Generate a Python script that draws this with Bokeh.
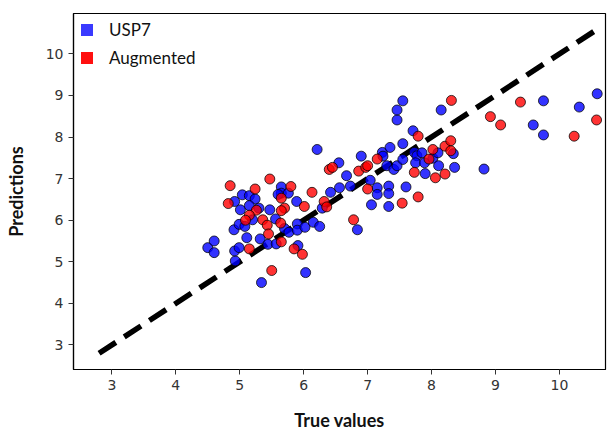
from bokeh.plotting import figure
from bokeh.models import Legend, LegendItem, FixedTicker
from bokeh.embed import file_html
from bokeh.resources import INLINE

# Data
usp7_true = [4.50, 4.60, 4.60, 4.93, 4.92, 4.99, 4.91, 4.99, 5.08, 4.92,
             5.04, 5.01, 5.15, 5.24, 5.15, 5.20, 5.11, 5.32, 5.44, 5.47,
             5.56, 5.57, 5.65, 5.65, 5.76, 5.89, 5.70, 5.77, 5.90, 5.90,
             6.02, 6.15, 6.25, 6.29, 5.91, 6.03, 5.34, 6.21, 6.42, 6.56,
             6.55, 6.67, 6.73, 6.84, 6.90, 7.04, 7.06, 7.15, 7.15, 7.23,
             7.24, 7.35, 7.33, 7.33, 7.33, 7.30, 7.41, 7.46, 7.55, 7.55,
             7.46, 7.46, 7.55, 7.60, 7.71, 7.73, 7.77, 7.75, 7.85, 7.89,
             7.90, 8.02, 8.11, 8.10, 8.34, 8.36, 8.15, 8.82, 9.59, 9.75,
             9.75, 10.31, 10.59, 5.30, 5.60]
usp7_pred = [5.34, 5.50, 5.22, 5.02, 5.26, 5.34, 5.77, 5.90, 5.85, 6.45,
             6.61, 6.25, 6.59, 6.51, 6.35, 6.01, 5.58, 5.55, 5.42, 6.25,
             6.03, 5.43, 6.80, 6.65, 6.65, 6.45, 5.80, 5.71, 5.91, 5.76,
             5.83, 5.95, 5.85, 6.29, 5.39, 4.74, 4.50, 7.70, 6.67, 6.78,
             7.38, 7.07, 6.82, 5.77, 7.54, 6.96, 6.37, 6.78, 6.62, 7.63,
             7.54, 7.75, 6.82, 6.64, 6.33, 7.31, 7.22, 7.31, 7.46, 7.84,
             8.41, 8.65, 8.87, 6.80, 8.15, 7.63, 7.55, 7.38, 7.62, 7.38,
             7.12, 7.49, 7.31, 7.62, 7.60, 7.27, 8.65, 7.23, 8.29, 8.87,
             8.05, 8.72, 9.04, 6.29, 6.62]

aug_true = [4.85, 4.82, 5.24, 5.47, 5.80, 6.13, 5.65, 5.70, 5.65, 5.26,
            5.15, 5.09, 5.36, 5.43, 5.64, 5.45, 5.65, 5.15, 5.85, 5.98,
            5.50, 6.01, 6.32, 6.36, 6.40, 6.45, 6.78, 6.86, 6.97, 7.00,
            7.00, 7.15, 7.54, 7.79, 7.73, 7.79, 7.96, 8.02, 8.06, 8.21,
            8.21, 8.30, 8.30, 8.31, 8.92, 9.08, 9.39, 10.23, 10.58]
aug_pred = [6.83, 6.40, 6.75, 6.99, 6.81, 6.67, 6.53, 6.29, 6.23, 6.24,
            6.12, 6.00, 6.01, 5.88, 5.93, 5.67, 5.48, 5.31, 5.31, 5.18,
            4.79, 6.33, 6.45, 6.32, 7.22, 7.27, 6.01, 7.18, 7.27, 7.31,
            6.75, 7.47, 6.41, 6.56, 7.15, 8.02, 7.47, 7.70, 7.02, 7.78,
            7.11, 7.91, 7.67, 8.88, 8.49, 8.29, 8.84, 8.02, 8.41]

ideal_line = [2.8, 10.65]
x_ticks = [3, 4, 5, 6, 7, 8, 9, 10]
y_ticks = [3, 4, 5, 6, 7, 8, 9, 10]
labels = ["USP7", "Augmented"]
offscreen_lo = [-101.0]   # legend swatch proxies, outside the visible range
offscreen_hi = [-100.0]

BLUE = "#0000ff"
RED = "#ff0000"

p = figure(width=609, height=433, output_backend="svg", toolbar_location=None,
           x_range=(2.40, 10.72), y_range=(2.41, 10.97),
           min_border_left=73, min_border_right=4, min_border_top=13,
           min_border_bottom=64)

p.xgrid.visible = False
p.ygrid.visible = False
p.outline_line_color = "black"
p.outline_line_width = 1.2
p.background_fill_color = "white"

p.line(ideal_line, ideal_line, line_color="black", line_width=5.5,
       line_dash="20 10")

p.scatter(usp7_true, usp7_pred, size=10, fill_color=BLUE, fill_alpha=0.8,
          line_color="black", line_alpha=0.75, line_width=1)
p.scatter(aug_true, aug_pred, size=10, fill_color=RED, fill_alpha=0.8,
          line_color="black", line_alpha=0.75, line_width=1)

# legend proxies (square swatches)
r_blue = p.quad(left=offscreen_lo, right=offscreen_hi, bottom=offscreen_lo,
                top=offscreen_hi, fill_color="#3a3aff", line_color=None)
r_red = p.quad(left=offscreen_lo, right=offscreen_hi, bottom=offscreen_lo,
               top=offscreen_hi, fill_color="#ff1010", line_color=None)
legend = Legend(items=[LegendItem(label=labels[0], renderers=[r_blue]),
                       LegendItem(label=labels[1], renderers=[r_red])],
                location="top_left")
legend.border_line_alpha = 0
legend.background_fill_alpha = 0
legend.margin = 2
legend.padding = 4
legend.spacing = 7
legend.glyph_width = 15
legend.glyph_height = 15
legend.label_standoff = 15
legend.label_text_font = "Lato"
legend.label_text_font_size = "17px"
legend.label_text_color = "#111111"
p.add_layout(legend)

for ax in (p.xaxis[0], p.yaxis[0]):
    ax.major_label_text_font = "DejaVu Sans"
    ax.major_label_text_font_size = "14px"
    ax.major_label_text_color = "#333333"
    ax.axis_line_color = "black"
    ax.axis_line_width = 1.2
    ax.major_tick_line_color = "#333333"
    ax.major_tick_in = 0
    ax.major_tick_out = 5
    ax.minor_tick_line_color = None
    ax.axis_label_text_font = "Lato"
    ax.axis_label_text_font_style = "bold"
    ax.axis_label_text_font_size = "18px"
    ax.axis_label_text_color = "#111111"

p.xaxis.ticker = FixedTicker(ticks=x_ticks)
p.yaxis.ticker = FixedTicker(ticks=y_ticks)
p.xaxis.axis_label = "True values"
p.yaxis.axis_label = "Predictions"
p.xaxis.axis_label_standoff = 16
p.yaxis.axis_label_standoff = 16

open("out.html", "w").write(file_html(p, INLINE))
